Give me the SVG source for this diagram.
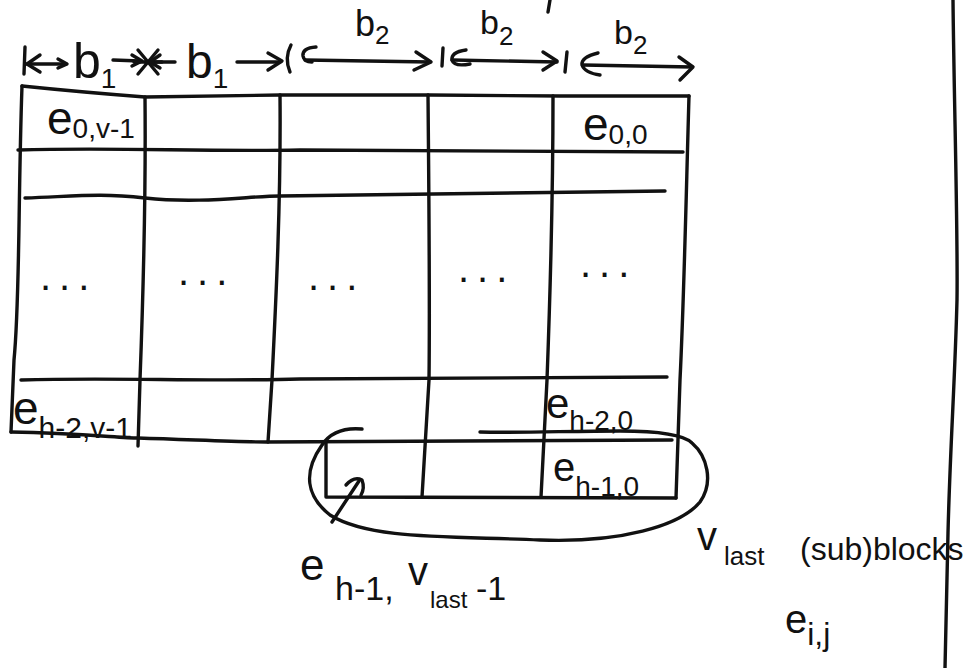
<svg xmlns="http://www.w3.org/2000/svg" width="965" height="668" viewBox="0 0 965 668">
<style>
.ln{fill:none;stroke:#111;stroke-width:3.4;stroke-linecap:round;stroke-linejoin:round}
.t{font-family:"Liberation Sans",Arial,sans-serif;fill:#111}
.d{font-size:40px;letter-spacing:8px}
</style>
<rect width="965" height="668" fill="#fff"/>
<g id="grid" class="ln">
<path d="M22,86 Q80,92 145,97 L280,95 L430,95 L560,96 L689,96"/>
<path d="M18,150 C120,147 200,152 300,150 L683,152"/>
<path d="M25,198 C80,196 100,193 145,198 C200,204 250,196 280,196 L665,191"/>
<path d="M21,380 C120,377 200,382 300,379 L667,377"/>
<path d="M11,432 C80,433 120,438 138,438 C200,440 240,442 266,442 L672,440"/>
<path d="M22,86 C18,200 20,300 14,360 L11,432"/>
<path d="M145,97 C146,200 143,300 140,380 L138,446"/>
<path d="M280,95 C281,200 276,300 272,380 L268,442"/>
<path d="M428,95 C429,200 430,300 429,380 L422,497"/>
<path d="M553,96 C553,200 550,300 547,380 L541,497"/>
<path d="M689,96 C686,200 684,300 680,380 L676,498"/>
<path d="M326,443 L326,497 L676,498"/>
</g>
<g id="ellipse" class="ln">
<path d="M362,429 C340,427 328,436 322,445 C303,472 306,496 330,515 C370,540 450,536 540,540 C620,543 680,526 700,502 C714,482 707,456 692,443 C682,433 650,431 620,431 C570,431 520,433 480,432"/>
</g>
<g id="connectors" class="ln">
<path d="M332,522 L359,481"/>
<path d="M346,485 Q354,476 362,480 Q365,488 361,495"/>
<path d="M25,47 L24,74"/>
<path d="M40,55 L27,64 L40,72"/>
<path d="M27,64 L66,64"/>
<path d="M58,59 L67,64 L58,68"/>
<path d="M113,60 L140,61"/>
<path d="M132,55 L142,61 L132,66"/>
<path d="M138,50 L158,74 M158,50 L138,74 M134,62 L162,62"/>
<path d="M175,62 L150,62"/>
<path d="M160,55 L150,62 L160,68"/>
<path d="M237,62 L280,62"/>
<path d="M268,53 L282,61 L268,70"/>
<path d="M291,45 Q284,58 290,72"/>
<path d="M316,47 Q302,48 303,56 Q304,62 312,62"/>
<path d="M305,60 L430,62"/>
<path d="M416,52 L431,62 L414,70"/>
<path d="M443,48 L442,66"/>
<path d="M466,50 Q451,52 452,60 Q454,67 470,64"/>
<path d="M452,60 L557,62"/>
<path d="M543,52 L557,61 L543,70"/>
<path d="M567,52 L565,72"/>
<path d="M598,53 Q581,57 582,65 Q585,73 600,75"/>
<path d="M583,65 L692,67"/>
<path d="M679,57 L693,67 L680,80"/>
<path d="M550,0 L548,12"/>
<path d="M953,0 C954,100 958,230 957,300 C955,380 950,450 948,533 L945,668"/>
</g>
<g id="labels" class="t">
<text x="73" y="78" font-size="50">b<tspan font-size="28" dy="10">1</tspan></text>
<text x="186" y="78" font-size="48">b<tspan font-size="28" dy="10">1</tspan></text>
<text x="355" y="36" font-size="36">b<tspan font-size="26" dy="8">2</tspan></text>
<text x="480" y="34" font-size="34">b<tspan font-size="26" dy="11">2</tspan></text>
<text x="614" y="44" font-size="34">b<tspan font-size="26" dy="10">2</tspan></text>
<text x="47" y="134" font-size="46">e<tspan font-size="28" dy="4">0,v-1</tspan></text>
<text x="583" y="140" font-size="46">e<tspan font-size="28" dy="4">0,0</tspan></text>
<text x="13" y="424" font-size="46">e<tspan font-size="30" dy="14">h-2,v-1</tspan></text>
<text x="546" y="418" font-size="42">e<tspan font-size="28" dy="12">h-2,0</tspan></text>
<text x="553" y="481" font-size="40">e<tspan font-size="28" dy="15">h-1,0</tspan></text>
<text class="d" x="40" y="290">...</text>
<text class="d" x="178" y="285">...</text>
<text class="d" x="308" y="290">...</text>
<text class="d" x="458" y="282">...</text>
<text class="d" x="580" y="277">...</text>
<text font-size="44"><tspan x="300" y="580">e</tspan><tspan x="335" y="600" font-size="34">h-1,</tspan><tspan x="408" y="585" font-size="40">v</tspan><tspan x="430" y="608" font-size="24">last</tspan><tspan x="476" y="600" font-size="34">-1</tspan></text>
<text font-size="40"><tspan x="697" y="550">v</tspan><tspan x="724" y="565" font-size="26">last</tspan><tspan x="800" y="560" font-size="32">(sub)blocks</tspan></text>
<text x="785" y="633" font-size="40">e<tspan font-size="32" dy="12">i,j</tspan></text>
</g>
</svg>
